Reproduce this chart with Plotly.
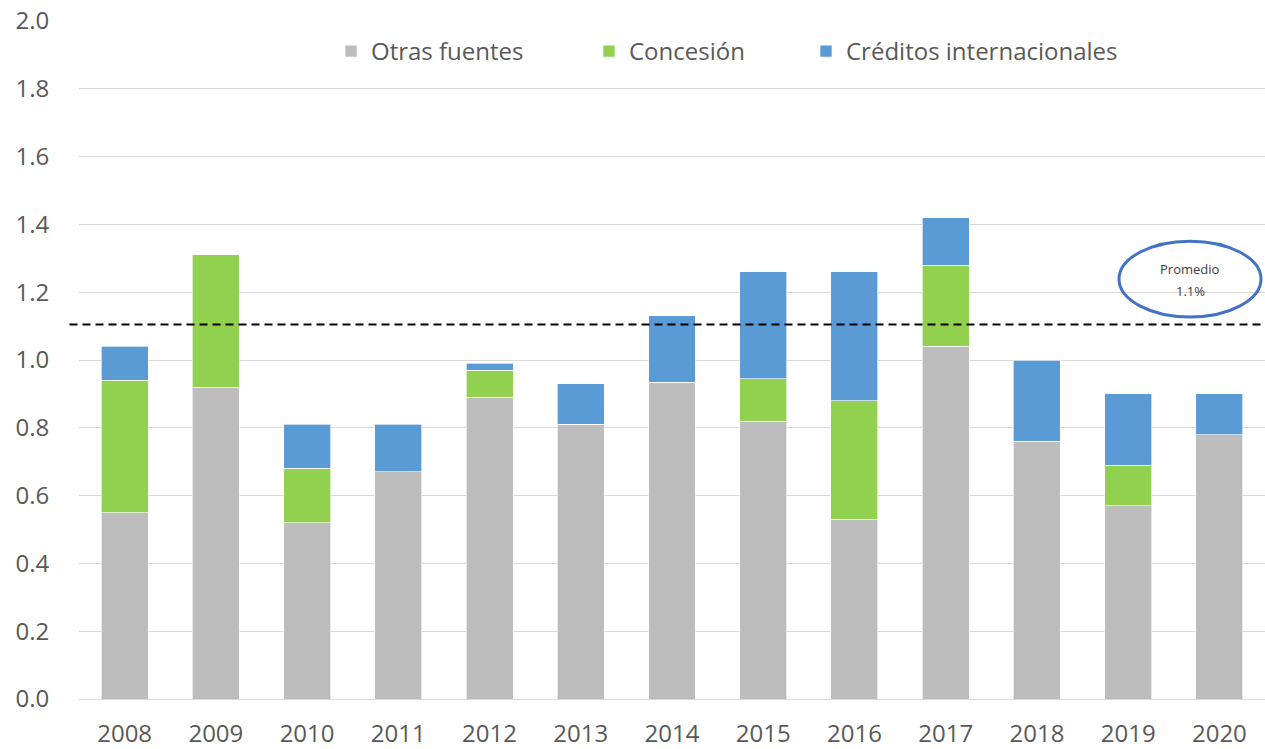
import plotly.graph_objects as go

years = ["2008", "2009", "2010", "2011", "2012", "2013", "2014",
         "2015", "2016", "2017", "2018", "2019", "2020"]
otras_fuentes = [0.55, 0.92, 0.52, 0.67, 0.89, 0.81, 0.935, 0.82, 0.53, 1.04, 0.76, 0.57, 0.78]
concesion = [0.39, 0.39, 0.16, 0.0, 0.08, 0.0, 0.0, 0.125, 0.35, 0.24, 0.0, 0.12, 0.0]
creditos = [0.10, 0.0, 0.13, 0.14, 0.02, 0.12, 0.195, 0.315, 0.38, 0.14, 0.24, 0.21, 0.12]
promedio = 1.105
y_ticks = [0.0, 0.2, 0.4, 0.6, 0.8, 1.0, 1.2, 1.4, 1.6, 1.8, 2.0]

FONT = "Open Sans"
TXT = "#595959"

series = [
    ("Otras fuentes", otras_fuentes, "#BCBDBC", "legend"),
    ("Concesión", concesion, "#92D050", "legend2"),
    ("Créditos internacionales", creditos, "#5B9BD5", "legend3"),
]

fig = go.Figure()
for name, vals, color, lg in series:
    fig.add_trace(go.Bar(
        x=years, y=vals, name=name, legend=lg, showlegend=True,
        marker=dict(color=color, line=dict(color="rgba(255,255,255,0.8)", width=0.8)),
    ))

legend_style = dict(orientation="h", yanchor="middle", xanchor="left",
                    font=dict(family=FONT, size=24, color=TXT),
                    bgcolor="rgba(0,0,0,0)", borderwidth=0)

fig.update_layout(
    width=1265, height=749,
    margin=dict(l=79, r=0, t=21, b=48),
    plot_bgcolor="white", paper_bgcolor="white",
    showlegend=True,
    barmode="stack", bargap=0.485,
    font=dict(family=FONT, size=24, color=TXT),
    legend=dict(x=(331 - 79) / 1186, y=0.955, **legend_style),
    legend2=dict(x=(589 - 79) / 1186, y=0.955, **legend_style),
    legend3=dict(x=(806 - 79) / 1186, y=0.955, **legend_style),
    xaxis=dict(showgrid=False, showline=False, zeroline=False,
               tickfont=dict(family=FONT, size=24, color=TXT),
               ticks="outside", ticklen=13, tickcolor="rgba(0,0,0,0)"),
    yaxis=dict(range=[0, 2], tickvals=y_ticks, ticktext=[f"{v:.1f}" for v in y_ticks],
               showgrid=True, gridcolor="#D9D9D9", gridwidth=1.3,
               zeroline=True, zerolinecolor="#D9D9D9", zerolinewidth=1.3,
               showline=False,
               tickfont=dict(family=FONT, size=24, color=TXT),
               ticks="outside", ticklen=24, tickcolor="rgba(0,0,0,0)"),
    shapes=[
        dict(type="line", xref="paper", yref="y", x0=-0.008, x1=1, y0=promedio, y1=promedio,
             line=dict(color="black", width=2, dash="8px,5px")),
        dict(type="circle", xref="paper", yref="y",
             x0=(1119 - 79) / 1186, x1=(1261 - 79) / 1186,
             y0=(700.5 - 318) / 339.5, y1=(700.5 - 242) / 339.5,
             line=dict(color="#4472C4", width=3), fillcolor="rgba(0,0,0,0)"),
    ],
    annotations=[
        dict(xref="paper", yref="y", x=(1190 - 79) / 1186, y=(700.5 - 270) / 339.5,
             text="Promedio", showarrow=False, xanchor="center", yanchor="middle",
             font=dict(family=FONT, size=13, color="#404040")),
        dict(xref="paper", yref="y", x=(1190 - 79) / 1186, y=(700.5 - 292) / 339.5,
             text="1.1%", showarrow=False, xanchor="center", yanchor="middle",
             font=dict(family=FONT, size=13, color="#404040")),
    ],
)

fig.write_html("out.html")
